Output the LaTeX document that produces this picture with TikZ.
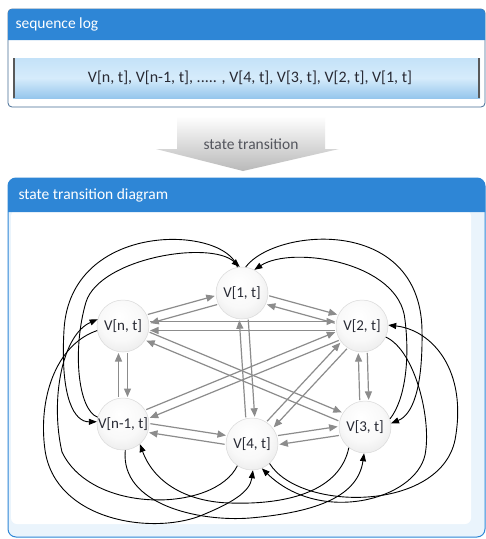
\documentclass[tikz,border=0pt]{standalone}
\usepackage{fontspec}
\setmainfont{Carlito}
\usetikzlibrary{arrows.meta,calc}
\definecolor{hdr}{RGB}{46,134,214}
\definecolor{gline}{RGB}{140,140,140}
\definecolor{txt}{RGB}{40,42,52}
\pgfdeclareradialshading{vball}{\pgfpoint{-4bp}{10bp}}{color(0bp)=(white); color(20bp)=(white!95!gray); color(36bp)=(white!80!gray); color(50bp)=(white!58!gray)}
\tikzset{
  vnode/.style={circle, minimum size=52pt, inner sep=0pt, shading=vball, draw=white!70!gray, line width=0.5pt, text=txt, font=\fontsize{15}{18}\selectfont},
  garr/.style={draw=gline, line width=1.2pt, shorten <=27pt, shorten >=27pt, -{Triangle[length=8.5pt,width=7pt]}, color=gline},
  barr/.style={draw=black, line width=0.9pt, -{Triangle[length=8pt,width=6pt]}},
  hdrtext/.style={anchor=west, text=white, font=\fontsize{15.5}{18}\selectfont}
}
\newcommand\gpair[2]{%
  \draw[garr] ($(#1)!4.5pt!90:(#2)$) -- ($(#2)!4.5pt!-90:(#1)$);
  \draw[garr] ($(#2)!4.5pt!90:(#1)$) -- ($(#1)!4.5pt!-90:(#2)$);
}
\begin{document}
\begin{tikzpicture}[x=1pt,y=-1pt]
\useasboundingbox (0,0) rectangle (486,539);
\fill[white] (0,0) rectangle (486,539);
% ---------- top panel
\path[draw={rgb,255:red,70;green,110;blue,150}, line width=0.8pt, fill=white, rounded corners=4pt] (8,9) rectangle (485,107);
\fill[hdr] (8,40) [rounded corners=4pt] -- (8,9) -- (485,9) [sharp corners] -- (485,40) -- cycle;
\node[hdrtext] (h1) at (12,24) {sequence log};
\shade[top color={rgb,255:red,196;green,226;blue,248}, bottom color={rgb,255:red,150;green,198;blue,236}, middle color={rgb,255:red,214;green,236;blue,251}] (13,58) rectangle (480,98);
\draw[gray!70!black, line width=1.6pt] (14,58) -- (14,98);
\draw[gray!70!black, line width=1.6pt] (479,58) -- (479,98);
\node[text=txt, font=\fontsize{16}{19}\selectfont] (seq) at (250,78) {V[n, t], V[n-1, t], ..... , V[4, t], V[3, t], V[2, t], V[1, t]};
% ---------- arrow
\shade[top color=white, bottom color=gray!55] (177,116) -- (325,116) -- (325,149) -- (339,149) -- (243,171) -- (156,149) -- (177,149) -- cycle;
\node[text=txt!80!white, font=\fontsize{15.5}{18}\selectfont] (st) at (251,144) {state transition};
% ---------- bottom panel
\path[fill={rgb,255:red,234;green,244;blue,252}, draw=hdr, line width=1pt, rounded corners=8pt] (8,178) rectangle (485,537);
\fill[white, rounded corners=6pt] (11,210) rectangle (471,524);
\fill[hdr] (8,212) [rounded corners=8pt] -- (8,178) -- (485,178) [sharp corners] -- (485,212) -- cycle;
\node[hdrtext] (h2) at (15,195) {state transition diagram};
% ---------- nodes
\node[vnode] (v1) at (242,293) {V[1, t]};
\node[vnode] (vn) at (123,326) {V[n, t]};
\node[vnode] (v2) at (362,326) {V[2, t]};
\node[vnode] (vn1) at (123,424) {V[n-1, t]};
\node[vnode] (v4) at (252,444) {V[4, t]};
\node[vnode] (v3) at (365,427) {V[3, t]};
% ---------- gray pairs
\gpair{v1}{vn}
\gpair{v1}{v2}
\gpair{v1}{v4}
\gpair{vn}{v2}
\gpair{vn}{v3}
\gpair{vn}{vn1}
\gpair{v2}{vn1}
\gpair{v2}{v4}
\gpair{v2}{v3}
\gpair{vn1}{v4}
\gpair{v4}{v3}
% ---------- black curves
% V1 <-> V[n-1]
\draw[barr] (v1.100) .. controls (225,225) and (70,220) .. (64,330) .. controls (60,400) and (75,422) .. (vn1.175);
\draw[barr] (vn1.165) .. controls (78,410) and (72,350) .. (86,302) .. controls (100,258) and (210,240) .. (v1.95);
% V1 <-> V3
\draw[barr] (v1.82) .. controls (275,228) and (420,215) .. (422,330) .. controls (423,390) and (412,415) .. (v3.8);
\draw[barr] (v3.18) .. controls (405,400) and (410,360) .. (405,320) .. controls (400,262) and (292,245) .. (v1.62);
% V[n] <-> V4
\draw[barr] (v4.236) .. controls (215,512) and (92,515) .. (62,452) .. controls (50,400) and (62,335) .. (vn.165);
\draw[barr] (vn.190) .. controls (55,345) and (38,400) .. (45,450) .. controls (55,520) and (150,535) .. (200,516) .. controls (232,503) and (250,492) .. (v4.272);
% V[n-1] <-> V3
\draw[barr] (vn1.275) .. controls (120,505) and (200,522) .. (250,518) .. controls (320,512) and (358,495) .. (v3.268);
\draw[barr] (v3.232) .. controls (340,490) and (290,505) .. (230,503) .. controls (190,502) and (155,485) .. (vn1.310);
% V2 <-> V4
\draw[barr] (v2.335) .. controls (415,350) and (432,420) .. (425,455) .. controls (415,500) and (320,525) .. (v4.292);
\draw[barr] (v4.312) .. controls (300,512) and (440,512) .. (455,440) .. controls (468,370) and (432,330) .. (v2.2);
\end{tikzpicture}
\end{document}
